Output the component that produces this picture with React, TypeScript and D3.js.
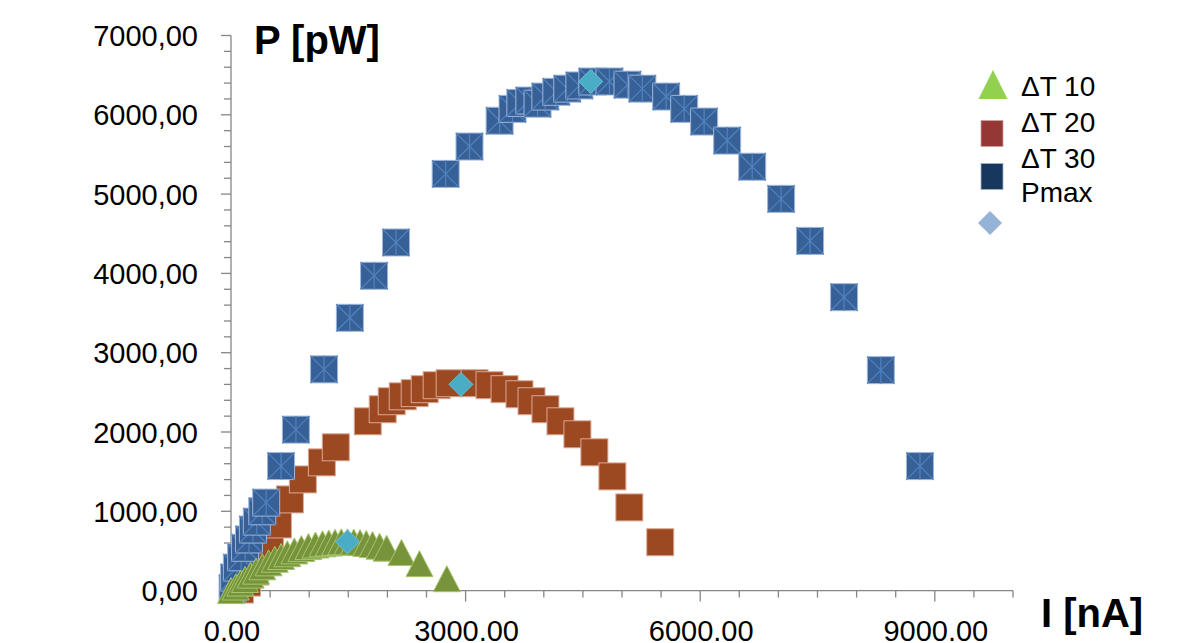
import React from "react";
import * as d3 from "d3";

// ΔT 10 series
const dt10I = [0, 60, 120, 180, 250, 320, 400, 480, 560, 640, 720, 810, 900, 990, 1080, 1170, 1250, 1330, 1410, 1490, 1570, 1650, 1730, 1810, 1900, 1990, 2180, 2410, 2760];
const dt10P = [0, 45, 95, 140, 195, 245, 300, 350, 395, 430, 465, 500, 530, 555, 575, 590, 600, 610, 615, 615, 612, 605, 595, 580, 560, 535, 480, 340, 150];

// ΔT 20 series
const dt20I = [115, 204, 306, 396, 498, 600, 753, 919, 1162, 1340, 1749, 1940, 2055, 2196, 2349, 2477, 2630, 2796, 3115, 3306, 3498, 3689, 3843, 4021, 4213, 4430, 4647, 4877, 5094, 5489];
const dt20P = [13, 101, 240, 392, 556, 834, 1150, 1402, 1617, 1807, 2135, 2287, 2388, 2450, 2490, 2540, 2590, 2615, 2615, 2590, 2540, 2476, 2388, 2287, 2135, 1971, 1744, 1440, 1049, 610];

// ΔT 30 series
const dt30I = [20, 40, 75, 130, 180, 230, 280, 330, 400, 450, 640, 830, 1190, 1520, 1830, 2110, 2745, 3050, 3435, 3600, 3700, 3815, 3920, 4020, 4160, 4300, 4455, 4620, 4840, 5070, 5260, 5565, 5795, 6050, 6345, 6665, 7035, 7405, 7840, 8310, 8810];
const dt30P = [30, 165, 290, 420, 540, 645, 770, 870, 1000, 1110, 1570, 2030, 2790, 3440, 3970, 4390, 5255, 5600, 5925, 6075, 6150, 6180, 6140, 6230, 6290, 6330, 6370, 6420, 6420, 6380, 6330, 6230, 6075, 5915, 5675, 5345, 4940, 4410, 3700, 2780, 1570];

// maximum power points
const pmaxI = [1490, 2940, 4600];
const pmaxP = [615, 2600, 6420];

const xTicks = [0, 3000, 6000, 9000];
const yTicks = [0, 1000, 2000, 3000, 4000, 5000, 6000, 7000];
const legendLabels = ["ΔT 10", "ΔT 20", "ΔT 30", "Pmax"];

const FONT = "'Liberation Sans', Arial, sans-serif";
const AXIS = "#868686";

const App = () => {
  const x = d3.scaleLinear().domain([0, 10000]).range([231, 1013]);
  const y = d3.scaleLinear().domain([0, 7000]).range([590.6, 35.5]);

  const s = 27;
  const h = s / 2;
  // Excel-like triangle marker, about as tall as it is wide
  const tri = `M0,-13L13.5,13L-13.5,13Z`;
  const diamond = `M0,-12L12,0L0,12L-12,0Z`;

  const xMinor = d3.range(0, 10001, 500);
  const yMinor = d3.range(0, 7001, 200);

  return (
    <svg
      width={1185}
      height={643}
      style={{ position: "fixed", left: 0, top: 0, background: "#fff" }}
    >
      {/* axes */}
      <g stroke={AXIS} strokeWidth={1.3}>
        <line x1={x(0)} x2={x(0)} y1={y(7000)} y2={y(0)} />
        <line x1={x(0)} x2={x(10000)} y1={y(0)} y2={y(0)} />
        {yMinor.map(v => (
          <line key={"ym" + v} x1={x(0) - (v % 1000 === 0 ? 10 : 7)} x2={x(0)} y1={y(v)} y2={y(v)} />
        ))}
        {xMinor.map(v => (
          <line key={"xm" + v} x1={x(v)} x2={x(v)} y1={y(0)} y2={y(0) + (v % 3000 === 0 ? 11 : 7)} />
        ))}
      </g>
      <g fontFamily={FONT} fontSize={29} fill="#000">
        {yTicks.map(v => (
          <text key={"yl" + v} x={198} y={y(v) + 10.5} textAnchor="end">
            {d3.format(".2f")(v).replace(".", ",")}
          </text>
        ))}
        {xTicks.map(v => (
          <text key={"xl" + v} x={x(v) + 1} y={641} textAnchor="middle">
            {d3.format(".2f")(v)}
          </text>
        ))}
      </g>
      <text x={254} y={54} fontFamily={FONT} fontWeight="bold" fontSize={40}>P [pW]</text>
      <text x={1041} y={627} fontFamily={FONT} fontWeight="bold" fontSize={40}>I [nA]</text>

      {/* ΔT 20 */}
      <g>
        {dt20I.map((v, i) => (
          <rect key={"b" + i} x={x(v) - h} y={y(dt20P[i]) - h} width={s} height={s}
            fill="#9c4820" stroke="#dba996" strokeWidth={1} />
        ))}
      </g>
      {/* ΔT 30 */}
      <g>
        {dt30I.map((v, i) => {
          const cx = x(v);
          const cy = y(dt30P[i]);
          return (
            <g key={"c" + i} transform={`translate(${cx},${cy})`}>
              <rect x={-h} y={-h} width={s} height={s} fill="#376097" stroke="#9fb6da" strokeWidth={1} />
              <path d={`M${-h},${-h}L${h},${h}M${h},${-h}L${-h},${h}M0,${-h}L0,${h}`}
                stroke="#4f81bd" strokeWidth={1.3} fill="none" />
            </g>
          );
        })}
      </g>
      {/* ΔT 10 */}
      <g>
        {dt10I.map((v, i) => (
          <path key={"a" + i} d={tri} transform={`translate(${x(v)},${y(dt10P[i])})`}
            fill="#77933c" stroke="#a6c66a" strokeWidth={1} />
        ))}
      </g>
      {/* Pmax */}
      <g>
        {pmaxI.map((v, i) => (
          <path key={"d" + i} d={diamond} transform={`translate(${x(v)},${y(pmaxP[i])})`}
            fill="#4bacc6" stroke="#6fc0d6" strokeWidth={1} />
        ))}
      </g>

      {/* legend */}
      <g>
        <path d="M993,70L1007.5,99L978.5,99Z" fill="#92d050" />
        <rect x={981} y={120.5} width={22} height={26} fill="#953735" stroke="#c9a3a2" strokeWidth={0.8} />
        <rect x={981} y={163.5} width={22} height={26} fill="#17375e" stroke="#a3b2c8" strokeWidth={0.8} />
        <path d={diamond} transform="translate(990,223)" fill="#95b3d7" />
        <g fontFamily={FONT} fontSize={28} fill="#000">
          {legendLabels.map((t, i) => (
            <text key={t} x={1021} y={[96, 132, 168, 202][i]}>{t}</text>
          ))}
        </g>
      </g>
    </svg>
  );
};

export default App;
